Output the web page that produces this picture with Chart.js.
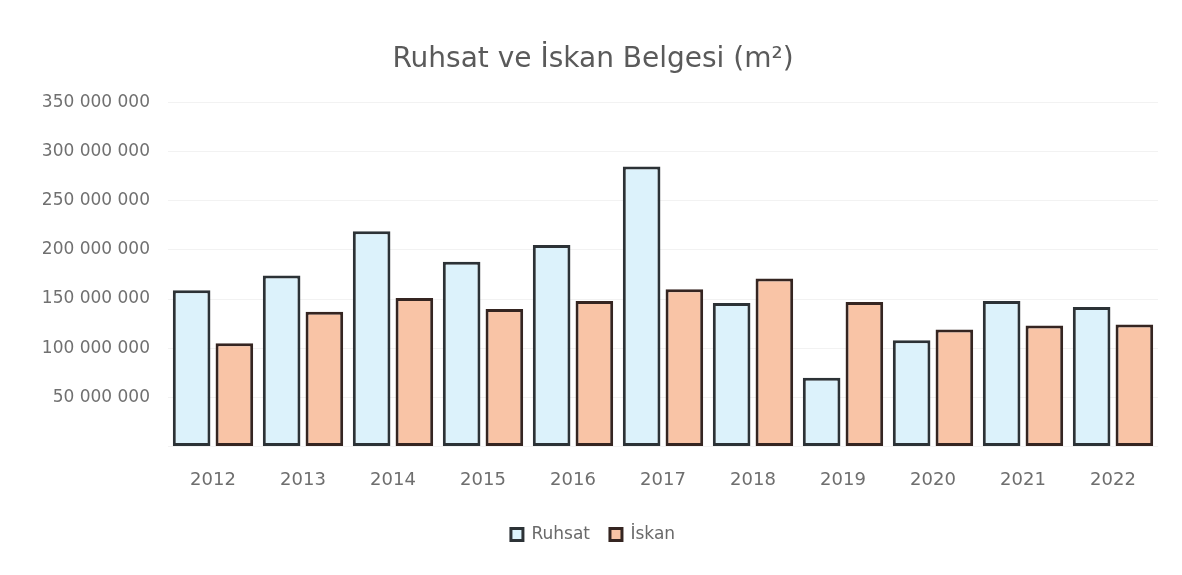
<!DOCTYPE html>
<html>
<head>
<meta charset="utf-8">
<script src="https://cdn.jsdelivr.net/npm/chart.js@4/dist/chart.umd.min.js"></script>
<style>
  html, body { margin: 0; padding: 0; background: #ffffff; }
  #wrap { width: 1182px; height: 575px; position: relative; }
</style>
</head>
<body>
<div id="wrap"><canvas id="ruhsatChart"></canvas></div>
<script>
// =========================================
// DATA
// =========================================

const years = ["2012", "2013", "2014", "2015", "2016", "2017", "2018", "2019", "2020", "2021", "2022"];

const ruhsat = [159000000, 174000000, 219000000, 188000000, 205000000, 285000000, 146000000, 70000000, 108000000, 148000000, 142000000];

const iskan = [105000000, 137000000, 151000000, 140000000, 148000000, 160000000, 171000000, 147000000, 119000000, 123000000, 124000000];

const yTicks = [50000000, 100000000, 150000000, 200000000, 250000000, 300000000, 350000000];

function spaced(v) {
  return String(v).replace(/\B(?=(\d{3})+(?!\d))/g, " ");
}

// =========================================
// CHART
// =========================================

const ctx = document.getElementById("ruhsatChart");

new Chart(ctx, {
  type: "bar",
  data: {
    labels: years,
    datasets: [{
      label: "Ruhsat",
      data: ruhsat,
      backgroundColor: "#dcf2fb",
      borderColor: "#2c3236",
      borderWidth: 3,
      borderSkipped: false
    }, {
      label: "İskan",
      data: iskan,
      backgroundColor: "#f9c4a6",
      borderColor: "#352521",
      borderWidth: 3,
      borderSkipped: false
    }]
  },
  options: {
    responsive: true,
    maintainAspectRatio: false,
    animation: false,
    layout: { padding: { left: 28, right: 24, top: 43, bottom: 22 } },
    datasets: {
      bar: { categoryPercentage: 0.95, barPercentage: 0.88 }
    },
    plugins: {
      title: {
        display: true,
        text: "Ruhsat ve İskan Belgesi (m²)",
        color: "#5a5a5a",
        font: { family: "DejaVu Sans", size: 28, weight: "normal" },
        padding: { top: 0, bottom: 26 }
      },
      legend: {
        position: "bottom",
        labels: {
          color: "#6a6a6a",
          font: { family: "DejaVu Sans", size: 17 },
          boxWidth: 12,
          boxHeight: 12,
          padding: 20
        }
      },
      tooltip: { enabled: false }
    },
    scales: {
      x: {
        grid: { display: false },
        border: { display: false },
        ticks: {
          color: "#6e6e6e",
          font: { family: "DejaVu Sans", size: 18 },
          padding: 15
        }
      },
      y: {
        min: 0,
        max: 350000000,
        afterFit: function (scale) { scale.width = 140; },
        afterBuildTicks: function (scale) {
          scale.ticks = [0].concat(yTicks).map(function (v) { return { value: v }; });
        },
        grid: { color: "#f2f2f2", drawTicks: false },
        border: { display: false },
        ticks: {
          color: "#707070",
          font: { family: "DejaVu Sans", size: 17 },
          padding: 18,
          callback: function (v) { return v === 0 ? "" : spaced(v); }
        }
      }
    }
  }
});
</script>
</body>
</html>
